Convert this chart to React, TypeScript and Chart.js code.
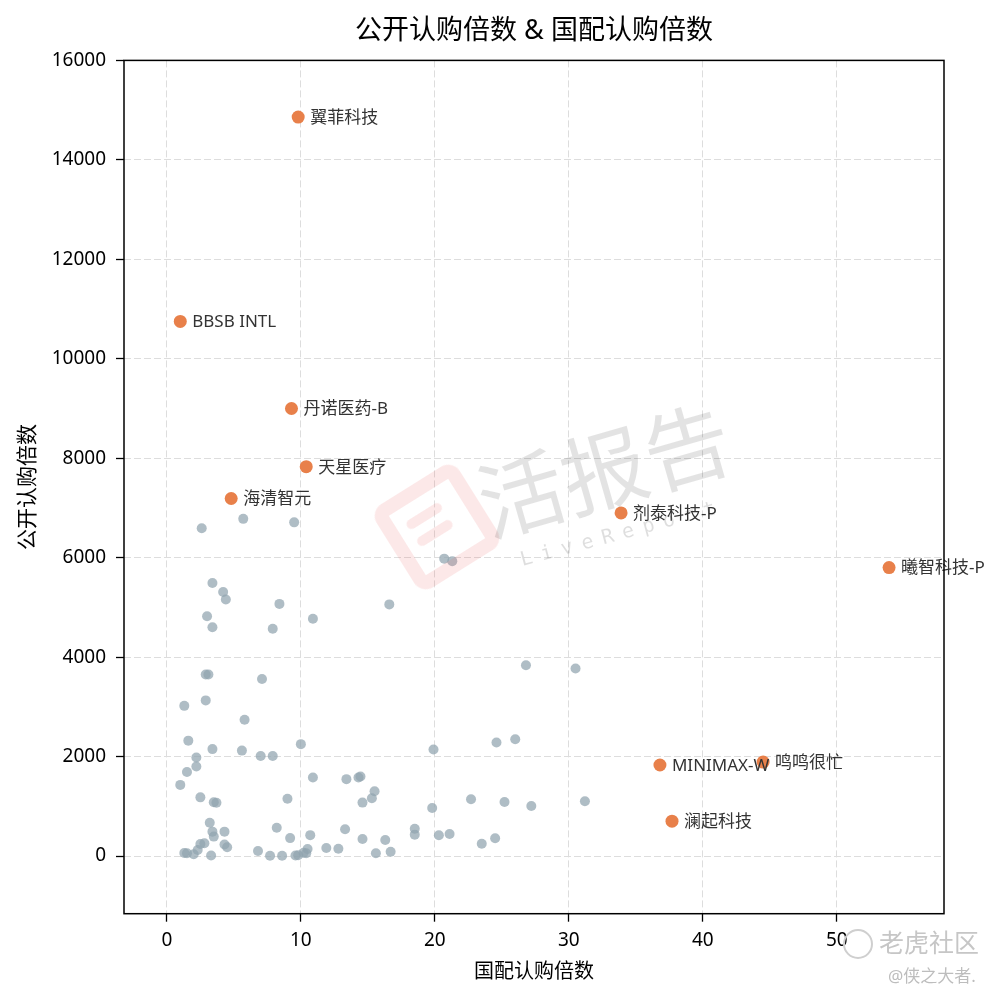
import React, { useEffect, useRef } from 'react';
import { Chart, registerables } from 'chart.js';

Chart.register(...registerables);

const chartTitle = '公开认购倍数 & 国配认购倍数';
const xAxisTitle = '国配认购倍数';
const yAxisTitle = '公开认购倍数';

const xMin = -3.2;
const xMax = 58;
const yMin = -1160;
const yMax = 16000;
const xTickValues = [0, 10, 20, 30, 40, 50];
const yTickValues = [0, 2000, 4000, 6000, 8000, 10000, 12000, 14000, 16000];

const highlightNames = ['翼菲科技', 'BBSB INTL', '丹诺医药-B', '天星医疗', '海清智元', '剂泰科技-P', '曦智科技-P', 'MINIMAX-W', '鸣鸣很忙', '澜起科技'];
const highlightX = [9.8, 1.0, 9.3, 10.4, 4.8, 33.9, 53.9, 36.8, 44.5, 37.7];
const highlightY = [14860, 10750, 9000, 7830, 7190, 6900, 5800, 1830, 1890, 700];

const otherX = [
  2.6, 5.7, 9.5, 3.4, 4.2, 4.4, 8.4, 3.0, 3.4, 7.9,
  10.9, 2.9, 3.1, 7.1, 1.3, 2.9, 5.8, 1.6, 10.0, 3.4,
  5.6, 2.2, 7.0, 7.9, 1.5, 2.2, 1.0, 10.9, 2.5, 3.5,
  3.7, 9.0, 3.2, 8.2, 3.4, 4.3, 3.5, 9.2, 10.7, 2.5,
  2.8, 4.3, 4.5, 2.3, 1.3, 1.5, 2.0, 3.3, 6.8, 7.7,
  8.6, 9.6, 9.8, 10.2, 10.5, 10.4, 11.9, 12.8, 13.3,
  20.7, 21.3, 16.6, 26.8, 30.5, 24.6, 26.0, 19.9, 13.4, 14.3,
  14.45, 15.5, 15.3, 14.6, 22.7, 25.2, 27.2, 31.2, 19.8, 18.5,
  18.5, 14.6, 16.3, 20.3, 21.1, 23.5, 24.5, 15.6, 16.7,
];
const otherY = [
  6590, 6780, 6710, 5490, 5310, 5160, 5070, 4820, 4600, 4570,
  4770, 3650, 3650, 3560, 3020, 3130, 2740, 2320, 2250, 2150,
  2120, 1980, 2010, 2010, 1690, 1800, 1430, 1580, 1180, 1080,
  1070, 1150, 670, 570, 490, 490, 390, 360, 420, 240,
  256, 230, 175, 120, 60, 55, 35, 10, 100, 5,
  5, 10, 15, 66, 140, 55, 160, 145, 537,
  5980, 5930, 5060, 3835, 3770, 2283, 2350, 2142, 1546, 1580,
  1600, 1304, 1163, 1074, 1143, 1088, 1007, 1102, 967, 550,
  430, 343, 322, 417, 443, 248, 357, 54, 87,
];

const FONT = "'Noto Sans', 'Noto Sans CJK SC', sans-serif";
const ORANGE = '#E8804A';
const GRAY = 'rgba(144,164,174,0.72)';

const pointLabelPlugin = {
  id: 'pointLabels',
  afterDatasetsDraw(chart: any) {
    const meta = chart.getDatasetMeta(0);
    const ctx = chart.ctx;
    ctx.save();
    ctx.font = `17px ${FONT}`;
    ctx.fillStyle = '#333333';
    ctx.textBaseline = 'middle';
    ctx.textAlign = 'left';
    meta.data.forEach((el: any, i: number) => {
      ctx.fillText(highlightNames[i], el.x + 12, el.y + 1);
    });
    ctx.restore();
  },
};

const framePlugin = {
  id: 'frame',
  afterDraw(chart: any) {
    const { ctx, chartArea } = chart;
    ctx.save();
    ctx.strokeStyle = '#000';
    ctx.lineWidth = 1.5;
    ctx.setLineDash([]);
    ctx.strokeRect(chartArea.left, chartArea.top, chartArea.right - chartArea.left, chartArea.bottom - chartArea.top);
    ctx.restore();
  },
};

export default function App() {
  const canvasRef = useRef<HTMLCanvasElement | null>(null);

  useEffect(() => {
    if (!canvasRef.current) return;
    const chart = new Chart(canvasRef.current, {
      type: 'scatter',
      data: {
        datasets: [
          {
            label: 'highlight',
            data: highlightX.map((x, i) => ({ x, y: highlightY[i] })),
            backgroundColor: ORANGE,
            borderWidth: 0,
            pointRadius: 6.5,
          },
          {
            label: 'others',
            data: otherX.map((x, i) => ({ x, y: otherY[i] })),
            backgroundColor: GRAY,
            borderWidth: 0,
            pointRadius: 5,
          },
        ],
      },
      options: {
        animation: false,
        responsive: false,
        devicePixelRatio: 1,
        layout: { padding: { left: 0, right: 56, top: 0, bottom: 0 } },
        plugins: {
          legend: { display: false },
          tooltip: { enabled: false },
          title: {
            display: true,
            text: chartTitle,
            fullSize: false,
            color: '#000',
            font: { family: FONT, size: 27, weight: 'normal' as any, lineHeight: 1.2 },
            padding: { top: 15, bottom: 13 },
          },
        },
        scales: {
          x: {
            type: 'linear',
            min: xMin,
            max: xMax,
            afterFit: (scale: any) => {
              scale.height = 89.3;
            },
            afterBuildTicks: (scale: any) => {
              scale.ticks = xTickValues.map((v) => ({ value: v }));
            },
            ticks: {
              color: '#000',
              font: { family: FONT, size: 19 },
              padding: 7,
              maxRotation: 0,
              autoSkip: false,
              callback: (v: any) => String(v),
            },
            grid: {
              color: '#dddddd',
              lineWidth: 1,
              drawTicks: true,
              tickLength: 8,
              tickColor: '#000',
              tickWidth: 1.3,
              tickBorderDash: [],
            },
            border: { display: false, dash: [7, 3] },
            title: {
              display: true,
              text: xAxisTitle,
              color: '#000',
              font: { family: FONT, size: 20, lineHeight: 1.2 },
              padding: { top: 0, bottom: 19 },
            },
          },
          y: {
            type: 'linear',
            min: yMin,
            max: yMax,
            afterFit: (scale: any) => {
              scale.width = 124;
            },
            afterBuildTicks: (scale: any) => {
              scale.ticks = yTickValues.map((v) => ({ value: v }));
            },
            ticks: {
              color: '#000',
              font: { family: FONT, size: 19 },
              padding: 10,
              autoSkip: false,
              callback: (v: any) => String(v),
            },
            grid: {
              color: '#dddddd',
              lineWidth: 1,
              drawTicks: true,
              tickLength: 8,
              tickColor: '#000',
              tickWidth: 1.3,
              tickBorderDash: [],
            },
            border: { display: false, dash: [7, 3] },
            title: {
              display: true,
              text: yAxisTitle,
              color: '#000',
              font: { family: FONT, size: 21, lineHeight: 1.2 },
              padding: { top: 15, bottom: 0 },
            },
          },
        },
      },
      plugins: [pointLabelPlugin, framePlugin],
    } as any);
    return () => chart.destroy();
  }, []);

  return (
    <div style={{ position: 'absolute', left: 0, top: 0, width: 1000, height: 1003, background: '#fff', overflow: 'hidden' }}>
      <canvas ref={canvasRef} width={1000} height={1003} style={{ position: 'absolute', left: 0, top: 0, width: 1000, height: 1003 }} />
      <div
        style={{
          position: 'absolute', left: 388, top: 478, width: 70, height: 70,
          border: '14px solid rgba(235,110,110,0.16)', borderRadius: 14,
          transform: 'rotate(-32deg)', pointerEvents: 'none',
        }}
      >
        <div style={{ position: 'absolute', left: 10, top: 14, width: 40, height: 10, background: 'rgba(235,110,110,0.16)', borderRadius: 5 }} />
        <div style={{ position: 'absolute', left: 10, top: 34, width: 40, height: 10, background: 'rgba(235,110,110,0.16)', borderRadius: 5 }} />
      </div>
      <div
        style={{
          position: 'absolute', left: 604, top: 470, transform: 'translate(-50%, -50%) rotate(-16deg)',
          fontFamily: FONT, fontSize: 86, lineHeight: 1, color: 'rgba(0,0,0,0.11)', whiteSpace: 'nowrap', pointerEvents: 'none',
        }}
      >
        活报告
      </div>
      <div
        style={{
          position: 'absolute', left: 622, top: 532, transform: 'translate(-50%, -50%) rotate(-15deg)',
          fontFamily: "'DejaVu Sans Mono', monospace", fontSize: 20, letterSpacing: 9, lineHeight: 1,
          color: 'rgba(0,0,0,0.13)', whiteSpace: 'nowrap', pointerEvents: 'none',
        }}
      >
        LiveReport
      </div>
      <div
        style={{
          position: 'absolute', left: 843, top: 929, width: 26, height: 26, borderRadius: '50%',
          border: '2px solid #cfcfcf', pointerEvents: 'none',
        }}
      />
      <div
        style={{
          position: 'absolute', left: 879, top: 927, fontFamily: FONT, fontSize: 25, lineHeight: 1.2,
          color: '#c6c6c6', whiteSpace: 'nowrap', pointerEvents: 'none',
        }}
      >
        老虎社区
      </div>
      <div
        style={{
          position: 'absolute', left: 888, top: 966, fontFamily: FONT, fontSize: 17, lineHeight: 1.2,
          color: '#bdbdbd', whiteSpace: 'nowrap', pointerEvents: 'none',
        }}
      >
        @侠之大者.
      </div>
    </div>
  );
}
